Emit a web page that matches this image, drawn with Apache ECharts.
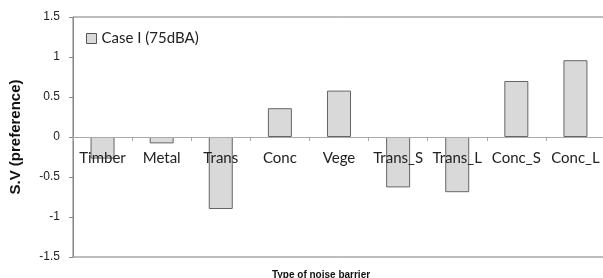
<!DOCTYPE html>
<html>
<head>
<meta charset="utf-8">
<script src="https://cdn.jsdelivr.net/npm/echarts@6/dist/echarts.min.js"></script>
<style>
  html, body { margin: 0; padding: 0; background: #fff; }
  #chart { width: 603px; height: 278px; }
</style>
</head>
<body>
<div id="chart"></div>
<script>
// barrier types and the S.V values
var barriers = ['Timber', 'Metal', 'Trans', 'Conc', 'Vege', 'Trans_S', 'Trans_L', 'Conc_S', 'Conc_L']
var caseOne = [-0.27, -0.08, -0.9, 0.36, 0.58, -0.63, -0.69, 0.7, 0.96]
var seriesName = 'Case I (75dBA)'

var chart = echarts.init(document.getElementById('chart'))
var option = {
  animation: false,
  textStyle: { fontFamily: 'Lato, "Open Sans", sans-serif' },
  title: {
    text: 'Type of noise barrier',
    left: 316,
    top: 265,
    textAlign: 'center',
    textStyle: { fontSize: 10, fontWeight: 'bold', fontFamily: 'Arial, "Liberation Sans", sans-serif', color: '#111' }
  },
  legend: {
    left: 86,
    top: 31,
    padding: 0,
    itemWidth: 10,
    itemHeight: 10,
    itemGap: 4,
    textStyle: { fontSize: 15, color: '#222', fontFamily: 'Lato, sans-serif' },
    data: [{ name: seriesName, icon: 'rect', itemStyle: { color: '#d9d9d9', borderColor: '#555', borderWidth: 1 } }]
  },
  grid: {
    show: true,
    left: 73,
    right: -2,
    top: 17,
    bottom: 21,
    borderColor: '#7a7a7a',
    borderWidth: 1,
    containLabel: false,
    outerBoundsMode: 'none'
  },
  xAxis: [{
    // zero line with the category ticks
    type: 'category',
    data: barriers,
    z: 3,
    axisLine: { onZero: true, lineStyle: { color: '#aaa', width: 1 } },
    axisTick: { show: true, length: 4, lineStyle: { color: '#aaa' } },
    axisLabel: { show: false },
    splitLine: { show: false }
  }, {
    // labels only, lifted up to sit under the zero line, drawn over the bars
    type: 'category',
    data: barriers,
    position: 'bottom',
    offset: -120,
    z: 5,
    axisLine: { show: false, onZero: false },
    axisTick: { show: false },
    axisLabel: { fontSize: 15, color: '#222', margin: 14, interval: 0 },
    splitLine: { show: false }
  }],
  yAxis: {
    type: 'value',
    min: -1.5,
    max: 1.5,
    interval: 0.5,
    name: 'S.V (preference)',
    nameLocation: 'middle',
    nameGap: 50,
    nameRotate: 90,
    nameTextStyle: { fontSize: 15, fontWeight: 'bold', fontFamily: 'Arial, "Liberation Sans", sans-serif', color: '#111' },
    axisLine: { show: true, onZero: false, lineStyle: { color: '#888' } },
    axisTick: { show: true, length: 4, lineStyle: { color: '#888' } },
    axisLabel: { fontSize: 12, color: '#222', margin: 13, fontFamily: 'Arial, "Liberation Sans", sans-serif' },
    splitLine: { show: false }
  },
  series: [{
    name: seriesName,
    type: 'bar',
    data: caseOne,
    barWidth: 24,
    itemStyle: { color: '#d9d9d9', borderColor: '#666', borderWidth: 1 }
  }]
}
chart.setOption(option)
</script>
</body>
</html>
